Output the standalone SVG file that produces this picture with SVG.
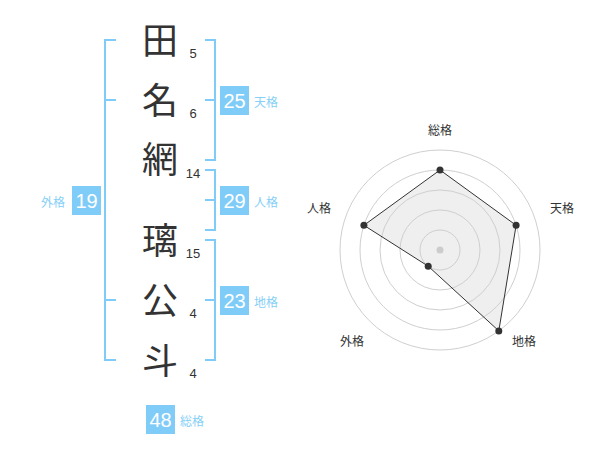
<svg xmlns="http://www.w3.org/2000/svg" width="600" height="470" viewBox="0 0 600 470">
<style>
.kanji{font-family:"Noto Sans CJK JP","Noto Sans CJK SC",sans-serif;font-size:36px;fill:#333;text-anchor:middle}
.stroke{font-family:"Liberation Sans",Arial,sans-serif;font-size:13px;fill:#333;text-anchor:middle}
.br{fill:none;stroke:#80ccf8;stroke-width:2}
.box{fill:#80ccf8}
.bnum{font-family:"Liberation Sans",Arial,sans-serif;font-size:20px;fill:#fff;text-anchor:middle}
.blab{font-family:"Noto Sans CJK JP","Noto Sans CJK SC",sans-serif;font-size:12px;fill:#86cff7}
.ring{fill:none;stroke:#cfcfcf;stroke-width:1}
.axl{font-family:"Noto Sans CJK JP","Noto Sans CJK SC",sans-serif;font-size:12px;fill:#333;text-anchor:middle}
.dot{fill:#333}
</style>
<rect width="600" height="470" fill="#fff"/>
<g id="chars">
<text class="kanji" x="160" y="54">田</text>
<text class="kanji" x="160" y="114">名</text>
<text class="kanji" x="160" y="173">網</text>
<text class="kanji" x="160" y="254">璃</text>
<text class="kanji" x="160" y="314">公</text>
<text class="kanji" x="160" y="374">斗</text>
</g>
<g id="strokes">
<text class="stroke" x="193" y="57.5">5</text>
<text class="stroke" x="193" y="117.5">6</text>
<text class="stroke" x="193" y="177.5">14</text>
<text class="stroke" x="193" y="257.5">15</text>
<text class="stroke" x="193" y="317.5">4</text>
<text class="stroke" x="193" y="377.5">4</text>
</g>
<g id="connectors">
<path class="br" d="M116,40 H105 V360 H116 M105,100 H116 M105,300 H116"/>
<path class="br" d="M205,40 H215 V160 H205 M215,100 H205"/>
<path class="br" d="M205,170 H215 V230 H205 M215,200 H205"/>
<path class="br" d="M205,240 H215 V360 H205 M215,300 H205"/>
</g>
<g id="tenkaku">
<rect class="box" x="220" y="86" width="29" height="29"/>
<text class="bnum" x="234.5" y="108">25</text>
<text class="blab" x="254" y="107">天格</text>
</g>
<g id="jinkaku">
<rect class="box" x="220" y="186" width="29" height="29"/>
<text class="bnum" x="234.5" y="208">29</text>
<text class="blab" x="254" y="207">人格</text>
</g>
<g id="chikaku">
<rect class="box" x="220" y="286" width="29" height="29"/>
<text class="bnum" x="234.5" y="308">23</text>
<text class="blab" x="254" y="307">地格</text>
</g>
<g id="gaikaku">
<rect class="box" x="72" y="186" width="29" height="29"/>
<text class="bnum" x="86.5" y="208">19</text>
<text class="blab" x="41" y="207">外格</text>
</g>
<g id="soukaku">
<rect class="box" x="146" y="405" width="29" height="29"/>
<text class="bnum" x="160.5" y="427">48</text>
<text class="blab" x="180" y="426">総格</text>
</g>
<g id="radar">
<polygon points="440,170 516.1,225.3 498.8,330.9 428.2,266.2 363.9,225.3" fill="#efefef" stroke="none"/>
<circle class="ring" cx="440" cy="250" r="20"/>
<circle class="ring" cx="440" cy="250" r="40"/>
<circle class="ring" cx="440" cy="250" r="60"/>
<circle class="ring" cx="440" cy="250" r="80"/>
<circle class="ring" cx="440" cy="250" r="100"/>
<circle cx="440" cy="250" r="3.5" fill="#ccc"/>
<polygon points="440,170 516.1,225.3 498.8,330.9 428.2,266.2 363.9,225.3" fill="none" stroke="#333" stroke-width="1"/>
<circle class="dot" cx="440" cy="170" r="3.5"/>
<circle class="dot" cx="516.1" cy="225.3" r="3.5"/>
<circle class="dot" cx="498.8" cy="330.9" r="3.5"/>
<circle class="dot" cx="428.2" cy="266.2" r="3.5"/>
<circle class="dot" cx="363.9" cy="225.3" r="3.5"/>
<text class="axl" x="440" y="135">総格</text>
<text class="axl" x="562" y="213">天格</text>
<text class="axl" x="319" y="213">人格</text>
<text class="axl" x="352" y="346">外格</text>
<text class="axl" x="524" y="346">地格</text>
</g>
</svg>
